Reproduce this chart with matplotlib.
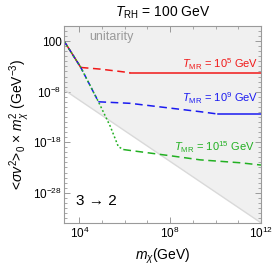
import numpy as np
import matplotlib
matplotlib.use("Agg")
import matplotlib.pyplot as plt
from matplotlib.ticker import FixedLocator, FixedFormatter, NullFormatter

plt.rcParams['font.family'] = ['Liberation Sans', 'DejaVu Sans']
plt.rcParams['mathtext.fontset'] = 'custom'
plt.rcParams['mathtext.rm'] = 'Liberation Sans'
plt.rcParams['mathtext.it'] = 'Liberation Sans:italic'

# data
red_m = [2.2e3, 1.15e4, 8e4, 6.3e5, 1.75e6, 1e12]
red_y = [78, 6.3e-4, 3e-4, 1e-4, 5.6e-5, 5.6e-5]

blue_m = [2.2e3, 1.15e4, 6.9e4, 1.7e6, 2.1e9, 1.3e10, 1e12]
blue_y = [78, 6.3e-4, 1e-10, 5e-11, 1.1e-12, 3.7e-13, 3.7e-13]

green_m = [2.2e3, 1.15e4, 6.9e4, 2.3e5, 5.2e5, 8.7e5, 1e8, 2.1e9, 1.2e11, 1e12]
green_y = [78, 6.3e-4, 1e-10, 1.3e-15, 1.3e-19, 3.5e-20, 2.1e-21, 3.2e-22, 8.5e-23, 3e-23]

unit_m = [2.2e3, 1e12]
unit_y = [2.1e-8, 1.1e-34]

labels = [r'$T_{\rm MR}$ = 10$^{5}$ GeV', r'$T_{\rm MR}$ = 10$^{9}$ GeV', r'$T_{\rm MR}$ = 10$^{15}$ GeV']

red = '#f01818'
blue = '#1a1af0'
green = '#22b022'
frame = '#9a9a9a'

fig = plt.figure(figsize=(2.75, 2.7), dpi=100)
ax = fig.add_axes([0.2345, 0.174, 0.7145, 0.7296])

# unitarity region
ax.fill_between(unit_m, unit_y, 1e5, color='#f0f0f0', lw=0)
ax.plot(unit_m, unit_y, color='#d9d9d9', lw=1)

# red: solid, dashed, solid
ax.plot(red_m[:2], red_y[:2], color=red, lw=1.1)
ax.plot(red_m[1:5], red_y[1:5], color=red, lw=1.1, dashes=(5, 3))
ax.plot(red_m[4:], red_y[4:], color=red, lw=1.1)

# blue: dashed steep, dashed, solid
ax.plot(blue_m[:3], blue_y[:3], color=blue, lw=1.1, dashes=(3, 2))
ax.plot(blue_m[2:6], blue_y[2:6], color=blue, lw=1.1, dashes=(5, 3))
ax.plot(blue_m[5:], blue_y[5:], color=blue, lw=1.1)

# green: dotted steep, dashed
ax.plot(green_m[:6], green_y[:6], color=green, lw=1.1, dashes=(1.2, 1.5))
ax.plot(green_m[5:], green_y[5:], color=green, lw=1.1, dashes=(5, 3))

ax.set_xscale('log')
ax.set_yscale('log')
ax.set_xlim(2.2e3, 1e12)
ax.set_ylim(1e-34, 1e5)

# ticks
ax.xaxis.set_major_locator(FixedLocator([1e4, 1e8, 1e12]))
ax.xaxis.set_major_formatter(FixedFormatter([r'$10^{4}$', r'$10^{8}$', r'$10^{12}$']))
ax.xaxis.set_minor_locator(FixedLocator([10.0**k for k in range(4, 13)]))
ax.xaxis.set_minor_formatter(NullFormatter())
ax.yaxis.set_major_locator(FixedLocator([1e2, 1e-8, 1e-18, 1e-28]))
ax.yaxis.set_major_formatter(FixedFormatter(['100', r'$10^{-8}$', r'$10^{-18}$', r'$10^{-28}$']))
ax.yaxis.set_minor_locator(FixedLocator([10.0**k for k in range(-34, 6)]))
ax.yaxis.set_minor_formatter(NullFormatter())
ax.tick_params(which='both', direction='in', top=True, right=True, color=frame, labelsize=8.5, pad=2)
ax.tick_params(which='major', length=4, width=0.7)
ax.tick_params(which='minor', length=2, width=0.6)
for s in ax.spines.values():
    s.set_color(frame)
    s.set_linewidth(0.8)

# texts
ax.text(0.125, 0.945, 'unitarity', transform=ax.transAxes, color='#9a9a9a', fontsize=9, va='center')
ax.text(0.985, 0.806, labels[0], transform=ax.transAxes, color=red, fontsize=8, ha='right', va='center')
ax.text(0.985, 0.634, labels[1], transform=ax.transAxes, color=blue, fontsize=8, ha='right', va='center')
ax.text(0.97, 0.385, labels[2], transform=ax.transAxes, color=green, fontsize=8, ha='right', va='center')
ax.text(0.06, 0.11, '3 → 2', transform=ax.transAxes, fontsize=11, va='center')

ax.set_title(r'$T_{\rm RH}$ = 100 GeV', fontsize=10, pad=7)
ax.set_xlabel(r'$m_{\chi}$(GeV)', fontsize=10, labelpad=4)
ax.set_ylabel(r'<$\sigma v^{2}$>$_{0}$ × $m_{\chi}^{2}$ (GeV$^{-3}$)', fontsize=10, labelpad=1)

plt.savefig('out.png', dpi=100)
